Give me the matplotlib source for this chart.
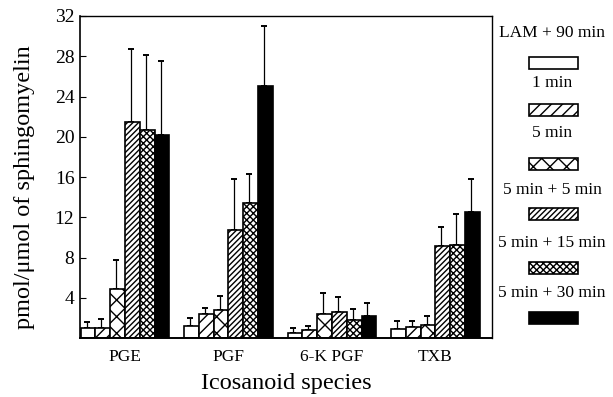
import numpy as np
import matplotlib
matplotlib.use('Agg')
import matplotlib.pyplot as plt
from matplotlib.patches import Rectangle

plt.rcParams['font.family'] = ['Liberation Serif', 'DejaVu Serif']
plt.rcParams['hatch.linewidth'] = 1.0

species = ['PGE', 'PGF', '6-K PGF', 'TXB']
treatments = ['LAM + 90 min', '1 min', '5 min', '5 min + 5 min', '5 min + 15 min', '5 min + 30 min']

# mean values per treatment (one entry per species)
lam90 = [1.0, 1.2, 0.5, 0.85]
min1 = [1.0, 2.4, 0.8, 1.1]
min5 = [4.9, 2.8, 2.4, 1.3]
min5_5 = [21.5, 10.7, 2.6, 9.1]
min5_15 = [20.7, 13.4, 1.8, 9.2]
min5_30 = [20.2, 25.0, 2.2, 12.5]

# top of error bar per treatment
lam90_top = [1.6, 2.0, 0.95, 1.7]
min1_top = [1.9, 3.0, 1.2, 1.7]
min5_top = [7.8, 4.2, 4.5, 2.2]
min5_5_top = [28.7, 15.8, 4.1, 11.0]
min5_15_top = [28.1, 16.3, 2.9, 12.3]
min5_30_top = [27.5, 31.0, 3.5, 15.8]

means = [lam90, min1, min5, min5_5, min5_15, min5_30]
tops = [lam90_top, min1_top, min5_top, min5_5_top, min5_15_top, min5_30_top]
styles = [('white', ''), ('white', '///'), ('white', 'xx'),
          ('white', '//////'), ('white', 'xxxxx'), ('black', '')]

fig = plt.figure(figsize=(6.13, 3.97), dpi=100)
ax = fig.add_axes([0.1305, 0.1486, 0.672, 0.8111])

x = np.arange(len(species))
w = 0.143
for i in range(6):
    pos = x + (i - 2.5) * w
    fc, h = styles[i]
    ax.bar(pos, means[i], width=w, color=fc, edgecolor='black', hatch=h, linewidth=1.2, zorder=2)
    err = np.array(tops[i]) - np.array(means[i])
    ax.errorbar(pos - 0.1 * w, means[i], yerr=[np.zeros(4), err], fmt='none',
                ecolor='black', elinewidth=0.9, capsize=2, capthick=1.4, zorder=1)

ax.set_xlim(-0.435, 3.546)
ax.set_ylim(0, 32)
ax.set_yticks([4, 8, 12, 16, 20, 24, 28, 32])
ax.tick_params(axis='y', direction='in', length=4, labelsize=14, pad=4)
ax.set_xticks(x)
ax.set_xticklabels(species, fontsize=12.5)
ax.tick_params(axis='x', length=0, pad=8)
for s in ax.spines.values():
    s.set_linewidth(1.0)
ax.spines['bottom'].set_linewidth(1.4)
ax.spines['left'].set_linewidth(1.2)

ax.set_ylabel('pmol/\u03bcmol of sphingomyelin', fontsize=17.5, labelpad=14)
ax.yaxis.label.set_y(0.47)
ax.set_xlabel('Icosanoid species', fontsize=17.5, labelpad=6)

# legend drawn to the right of the plot
label_y = [33, 83, 133, 190, 243, 293]
patch_y = [57, 104, 158, 208, 262, 312]
for i, lab in enumerate(treatments):
    fig.text(552 / 613, 1 - label_y[i] / 397, lab, ha='center', va='center', fontsize=12.5)
    fc, h = styles[i]
    r = Rectangle((529 / 613, 1 - (patch_y[i] + 12) / 397), 49 / 613, 12 / 397,
                  transform=fig.transFigure, facecolor=fc, edgecolor='black',
                  hatch=h, linewidth=1.2)
    fig.patches.append(r)

fig.savefig('out.png', dpi=100)
